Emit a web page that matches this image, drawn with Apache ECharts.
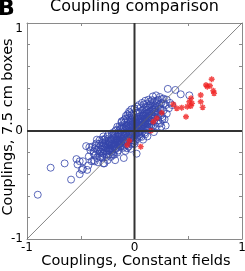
<!DOCTYPE html>
<html>
<head>
<meta charset="utf-8">
<script src="https://cdn.jsdelivr.net/npm/echarts@6/dist/echarts.min.js"></script>
<style>
html,body{margin:0;padding:0;background:#fff;}
#chart{width:245px;height:271px;}
</style>
</head>
<body>
<div id="chart"></div>
<script>
// ---- data ----
const panelLetter = 'B';
const chartTitle = 'Coupling comparison';
const xName = 'Couplings, Constant fields';
const yName = 'Couplings, 7.5 cm boxes';
const xTickLabels = ['-1', '0', '1'];
const yTickLabels = ['-1', '0', '1'];

const blueCircles = [
  [-0.90,-0.59],[-0.78,-0.34],[-0.65,-0.30],[-0.59,-0.45],[-0.51,-0.40],[-0.54,-0.26],[-0.51,-0.28],[-0.53,-0.31],
  [-0.48,-0.35],[-0.44,-0.36],[-0.43,-0.32],[-0.40,-0.28],[-0.45,-0.14],[-0.42,-0.15],[-0.37,-0.16],[-0.35,-0.25],
  [-0.32,-0.19],[-0.30,-0.25],[-0.41,-0.18],[-0.37,-0.28],[-0.34,-0.29],[-0.28,-0.30],[-0.18,-0.27],[-0.33,-0.21],
  [-0.29,-0.14],[-0.26,-0.22],[-0.24,-0.18],[-0.25,-0.27],[-0.22,-0.24],[-0.20,-0.20],
  [-0.38,-0.19],[-0.30,-0.08],[-0.27,-0.07],[-0.24,-0.13],[-0.21,-0.04],[-0.17,0.01],[-0.14,0.04],[-0.12,0.09],
  [-0.48,-0.28],[-0.38,-0.27],[-0.32,-0.24],[-0.29,-0.30],[-0.49,-0.36],[-0.29,-0.21],[-0.23,-0.18],[-0.20,-0.22],
  [-0.15,-0.18],[-0.14,-0.13],[-0.07,-0.16],[-0.10,-0.25],[0.02,-0.21],
  [-0.31,-0.17],[-0.30,-0.11],[-0.29,-0.21],[-0.28,-0.08],[-0.27,-0.15],[-0.26,-0.19],[-0.25,-0.12],[-0.25,-0.05],
  [-0.24,-0.22],[-0.23,-0.16],[-0.22,-0.09],[-0.22,-0.13],[-0.21,-0.19],[-0.20,-0.06],[-0.20,-0.15],[-0.19,-0.11],
  [-0.18,-0.17],[-0.18,-0.03],[-0.17,-0.08],[-0.17,-0.13],[-0.16,-0.20],[-0.16,-0.05],[-0.15,-0.10],[-0.15,-0.15],
  [-0.14,0.01],[-0.14,-0.12],
  [-0.13,-0.07],[-0.13,-0.03],[-0.12,-0.10],[-0.12,0.05],[-0.11,-0.14],[-0.11,-0.01],[-0.10,-0.06],[-0.10,0.03],
  [-0.09,-0.11],[-0.09,0.08],[-0.08,-0.03],[-0.08,-0.08],[-0.07,0.01],[-0.07,0.11],[-0.07,-0.13],[-0.06,-0.05],
  [-0.06,0.05],[-0.05,-0.09],[-0.05,0.00],[-0.05,0.14],[-0.04,-0.03],[-0.04,0.08],[-0.03,-0.12],[-0.03,0.03],
  [-0.03,-0.06],[-0.02,0.11],[-0.02,-0.01],[-0.02,0.06],[-0.01,-0.09],[-0.01,0.02],[-0.01,0.16],[0.00,-0.04],
  [0.00,0.07],[0.00,-0.12],
  [0.01,0.01],[0.01,0.10],[0.02,-0.06],[0.02,0.05],[0.03,0.13],[0.03,-0.02],[0.04,0.08],[0.04,0.02],
  [0.05,-0.05],[0.05,0.17],[0.06,0.04],[0.06,0.11],[0.07,-0.01],[0.07,0.08],[0.08,0.14],[0.08,0.02],
  [0.09,0.20],[0.09,0.06],[0.10,-0.03],[0.10,0.11],[0.11,0.03],[0.11,0.16],[0.12,0.08],[0.12,0.22],
  [0.13,0.12],[0.13,0.01],[0.14,0.18],[0.14,0.06],[0.15,0.25],[0.15,0.10],
  [0.16,0.15],[0.16,0.03],[0.17,0.20],[0.18,0.09],[0.18,0.27],[0.19,0.13],[0.20,0.18],[0.20,0.04],
  [0.21,0.23],[0.22,0.10],[0.22,0.29],[0.23,0.16],[0.24,0.07],[0.24,0.21],[0.25,0.26],[0.25,0.04],
  [0.26,0.13],[0.27,0.19],[0.27,0.30],[0.28,0.11],[0.29,0.24],[0.30,0.16],[0.30,0.29],
  [0.31,0.39],[0.38,0.38],[0.43,0.34],[0.51,0.33],[0.33,0.26],[0.35,0.24],[0.32,0.21],[0.29,0.05],
  [0.26,0.11],[0.22,0.07],[0.18,-0.01],[0.08,-0.08],[0.12,-0.05],
  [-0.12,-0.05],[-0.11,0.02],[-0.10,-0.09],[-0.09,-0.02],[-0.08,0.04],[-0.07,-0.06],[-0.06,0.09],[-0.06,-0.02],
  [-0.05,0.04],[-0.04,-0.07],[-0.04,0.12],[-0.03,0.00],[-0.02,-0.04],[-0.02,0.03],[-0.01,0.09],[-0.01,-0.02],
  [0.00,0.01],[0.00,0.12],[0.01,-0.03],[0.01,0.05],[0.02,0.09],[0.02,0.01],[0.03,0.06],[0.03,0.17],
  [0.04,-0.01],[0.04,0.11],[0.05,0.03],[0.05,0.08],[0.06,0.14],[0.06,0.00],[0.07,0.05],[0.07,0.19],
  [0.08,0.10],[0.09,0.02],[0.09,0.15],[0.10,0.07],[0.10,0.22],[0.11,0.12],[0.12,0.04],[0.12,0.17],
  [0.13,0.09],[0.14,0.14],[0.14,0.24],[-0.23,-0.12],[-0.21,-0.16],[-0.19,-0.07],[-0.17,-0.16],[-0.16,-0.10],
  [-0.15,-0.03],[-0.14,-0.08],[-0.13,-0.14],[-0.13,0.02],[-0.27,-0.12],[-0.26,-0.24],[-0.24,-0.09],[-0.21,-0.02],
  [-0.19,-0.22],[-0.18,0.00],[-0.16,0.04],[-0.33,-0.12],[-0.35,-0.08],[-0.38,-0.21],[-0.36,-0.13],[-0.29,-0.05],
  [-0.30,-0.23],[-0.12,0.08],[-0.10,0.10],[-0.08,0.14],[-0.05,0.18],[-0.03,0.20],[0.00,0.21],[0.04,0.24],
  [0.07,0.26],[0.10,0.28],[0.13,0.29],[0.17,0.32],[0.20,0.33],[0.21,0.28],[0.19,0.24],
  [-0.115,-0.075],[-0.095,-0.045],[-0.085,0.015],[-0.065,-0.095],[-0.055,0.065],[-0.045,-0.015],[-0.035,0.095],
  [-0.025,-0.085],[-0.015,0.045],[-0.005,-0.055],[0.005,0.085],[0.015,-0.015],[0.025,0.035],[0.035,0.105],
  [0.045,0.055],[0.055,0.125],[0.065,0.025],[0.075,0.145],[0.085,0.065],[0.095,0.175],[0.105,0.095],
  [0.115,0.195],[0.125,0.135],[0.135,0.215],[0.145,0.095],[0.155,0.185],[0.165,0.235],[0.175,0.115],
  [0.185,0.175],[0.195,0.215],[0.205,0.255],[0.215,0.135],[0.225,0.205],[0.235,0.245],[0.245,0.145],
  [-0.135,-0.095],[-0.145,-0.055],[-0.155,-0.125],[-0.165,-0.075],[-0.175,-0.105],[-0.185,-0.145],
  [-0.195,-0.035],[-0.205,-0.115],[-0.215,-0.075],[-0.225,-0.165],[-0.235,-0.105],[-0.245,-0.035],
  [-0.255,-0.155],[-0.265,-0.095],[-0.275,-0.185],[-0.285,-0.115],[-0.295,-0.165],[-0.315,-0.135],
  [-0.325,-0.085],[-0.345,-0.175],[-0.355,-0.115],[-0.365,-0.225],[-0.395,-0.145],[-0.425,-0.235],
  [-0.085,0.115],[-0.065,0.155],[-0.045,0.165],[-0.025,0.145],[0.015,0.185],[0.025,0.225],[0.055,0.215],
  [0.085,0.245],[0.115,0.255],[0.145,0.275],[0.165,0.285],[0.235,0.315],[0.255,0.295],[0.275,0.255],
  [-0.105,-0.155],[-0.085,-0.185],[-0.055,-0.145],[-0.035,-0.165],[-0.015,-0.115],[0.005,-0.095],
  [0.025,-0.075],[0.045,-0.035],[0.065,-0.055],[0.095,-0.015],[0.135,0.035],[0.155,0.055],[0.175,0.045],
  [-0.105,-0.035],[-0.075,-0.015],[-0.045,0.025],[-0.015,0.065],[0.015,0.075],[0.045,0.095],[0.075,0.115],
  [0.105,0.145],[0.135,0.165],[0.165,0.195],[0.195,0.165],[-0.125,-0.115],[-0.155,-0.085],[-0.185,-0.125],
  [-0.215,-0.135],[-0.245,-0.165],[-0.275,-0.145],[-0.305,-0.195],[-0.335,-0.155],[-0.075,0.055],
  [-0.035,0.055],[0.005,0.035],[0.035,0.025],[0.065,0.085],[0.095,0.115],[0.125,0.065],[0.155,0.125],
  [0.185,0.205],[0.215,0.175],[0.245,0.195],[-0.205,-0.175],[-0.175,-0.055],[-0.145,-0.025],[-0.115,0.035]
];

const redStars = [
  [0.718,0.479],[0.665,0.426],[0.702,0.419],[0.677,0.410],[0.733,0.373],[0.740,0.349],[0.616,0.333],
  [0.526,0.303],[0.510,0.271],[0.535,0.256],[0.616,0.271],[0.491,0.225],[0.523,0.231],[0.634,0.219],
  [0.439,0.216],[0.393,0.210],[0.361,0.247],[0.479,0.132],[0.253,0.169],[0.207,0.118],[0.175,0.086],
  [0.153,0.003],[0.058,-0.145],[-0.048,-0.090],[-0.067,-0.130]
];

const zeroVertical = [[0,-1],[0,1]];
const zeroHorizontal = [[-1,0],[1,0]];
const identityLine = [[-1,-1],[1,1]];

// ---- chart ----
const chart = echarts.init(document.getElementById('chart'), null, {renderer:'canvas'});
const FONT = 'DejaVu Sans';
function pick(labels){
  return function(v){
    const s = String(Math.round(v*100)/100);
    return labels.indexOf(s) >= 0 ? s : '';
  };
}
const frameColor = '#8a8a8a';
const asterisk = 'path://M5,0L5,10M0,5L10,5M1.5,1.5L8.5,8.5M1.5,8.5L8.5,1.5';

chart.setOption({
  animation:false,
  backgroundColor:'#fff',
  grid:{left:27,right:3,top:23,bottom:32,containLabel:false,outerBoundsMode:'none'},
  graphic:[
    {type:'text',left:-2,top:-2,style:{text:panelLetter,font:'bold 22px "'+FONT+'"',fill:'#000'}},
    {type:'text',left:50,top:-1,style:{text:chartTitle,font:'16px "'+FONT+'"',fill:'#000'}},
    {type:'text',x:136,y:261,style:{text:xName,font:'14.5px "'+FONT+'"',fill:'#000',align:'center',verticalAlign:'middle'}},
    {type:'text',x:8,y:127,rotation:Math.PI/2,style:{text:yName,font:'14.5px "'+FONT+'"',fill:'#000',align:'center',verticalAlign:'middle'}}
  ],
  xAxis:[
    {type:'value',min:-1,max:1,interval:0.5,position:'bottom',
     axisLine:{onZero:false,lineStyle:{color:frameColor,width:1}},
     axisTick:{inside:true,length:3,lineStyle:{color:frameColor}},
     splitLine:{show:false},
     axisLabel:{formatter:pick(xTickLabels),fontFamily:FONT,fontSize:12,color:'#000',margin:3,showMinLabel:true,showMaxLabel:true}},
    {type:'value',min:-1,max:1,interval:0.5,position:'top',
     axisLine:{onZero:false,lineStyle:{color:frameColor,width:1}},
     axisTick:{inside:true,length:3,lineStyle:{color:frameColor}},
     splitLine:{show:false},axisLabel:{show:false}}
  ],
  yAxis:[
    {type:'value',min:-1,max:1,interval:0.2,position:'left',
     axisLine:{onZero:false,lineStyle:{color:frameColor,width:1}},
     axisTick:{inside:true,length:3,lineStyle:{color:frameColor}},
     splitLine:{show:false},
     axisLabel:{formatter:pick(yTickLabels),fontFamily:FONT,fontSize:12,color:'#000',margin:4,showMinLabel:true,showMaxLabel:true,verticalAlignMaxLabel:'top'}},
    {type:'value',min:-1,max:1,interval:0.2,position:'right',
     axisLine:{onZero:false,lineStyle:{color:frameColor,width:1}},
     axisTick:{inside:true,length:3,lineStyle:{color:frameColor}},
     splitLine:{show:false},axisLabel:{show:false}}
  ],
  series:[
    {type:'scatter',data:blueCircles,symbol:'circle',symbolSize:7,z:2,
     itemStyle:{color:'rgba(0,0,0,0)',borderColor:'#3445aa',borderWidth:1}},
    {type:'line',data:identityLine,symbol:'none',z:3,silent:true,
     lineStyle:{color:'#666',width:0.8}},
    {type:'scatter',data:redStars,symbol:asterisk,symbolSize:6,z:4,
     itemStyle:{color:'#f02020',borderColor:'#f02020',borderWidth:1.4}},
    {type:'line',data:zeroVertical,symbol:'none',z:5,silent:true,
     lineStyle:{color:'#333',width:2}},
    {type:'line',data:zeroHorizontal,symbol:'none',z:5,silent:true,
     lineStyle:{color:'#333',width:2}}
  ]
});
</script>
</body>
</html>
